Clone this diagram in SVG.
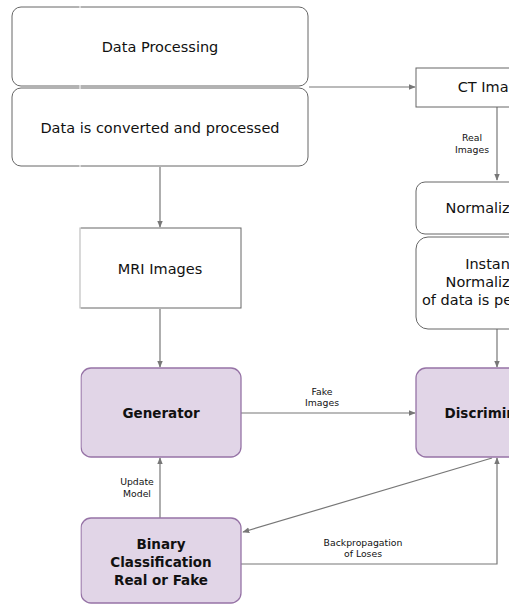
<svg xmlns="http://www.w3.org/2000/svg" width="509" height="605" viewBox="0 0 509 605">
<style>
.box{fill:#ffffff;stroke:#666666;stroke-width:1}
.gan{fill:#e1d5e7;stroke:#9673a6;stroke-width:1.3}
.t{font-family:"DejaVu Sans","Liberation Sans",sans-serif;fill:#111;text-anchor:middle}
.n{font-size:14.5px}
.b{font-size:13.5px;font-weight:bold}
.s{font-size:9.3px}
.c{fill:none;stroke:#777777;stroke-width:1.2}
</style>
<defs>
<marker id="ah" viewBox="0 0 10 10" refX="9" refY="5" markerWidth="7" markerHeight="7" orient="auto" markerUnits="userSpaceOnUse">
<path d="M0,1 L10,5 L0,9 z" fill="#777777"/>
</marker>
</defs>
<rect width="509" height="605" fill="#ffffff"/>
<g id="connectors">
<path class="c" d="M160,167 V227" marker-end="url(#ah)"/>
<path class="c" d="M309,87 H415" marker-end="url(#ah)"/>
<path class="c" d="M497,107 V180" marker-end="url(#ah)"/>
<path class="c" d="M160,309 V367" marker-end="url(#ah)"/>
<path class="c" d="M497,329 V367" marker-end="url(#ah)"/>
<path class="c" d="M241,413 H415" marker-end="url(#ah)"/>
<path class="c" d="M160,518 V458" marker-end="url(#ah)"/>
<path class="c" d="M492,458 L243,532" marker-end="url(#ah)"/>
<path class="c" d="M241,564 H497 V458" marker-end="url(#ah)"/>
<text class="t s" x="322" y="395">Fake</text>
<text class="t s" x="322" y="406">Images</text>
<text class="t s" x="472" y="141">Real</text>
<text class="t s" x="472" y="153">Images</text>
<text class="t s" x="137" y="485">Update</text>
<text class="t s" x="137" y="497">Model</text>
<text class="t s" x="363" y="546">Backpropagation</text>
<text class="t s" x="363" y="557">of Loses</text>
</g>
<g id="data-processing">
<rect class="box" x="12" y="7" width="296" height="79" rx="9"/>
<text class="t n" x="160" y="52">Data Processing</text>
</g>
<g id="data-converted">
<rect class="box" x="12" y="88" width="296" height="78" rx="9"/>
<text class="t n" x="160" y="133">Data is converted and processed</text>
</g>
<g id="mri-images">
<rect class="box" x="80" y="228" width="161" height="80"/>
<text class="t n" x="160" y="274">MRI Images</text>
</g>
<g id="ct-images">
<rect class="box" x="416" y="68" width="160" height="39"/>
<text class="t n" x="496" y="92">CT Images</text>
</g>
<g id="normalization">
<rect class="box" x="416" y="182" width="160" height="52" rx="9"/>
<text class="t n" x="496" y="213">Normalization</text>
</g>
<g id="instance-normalization">
<rect class="box" x="416" y="237" width="160" height="92" rx="12"/>
<text class="t n" x="496" y="269">Instance</text>
<text class="t n" x="496" y="287">Normalization</text>
<text class="t n" x="496" y="305">of data is performed</text>
</g>
<g id="generator">
<rect class="gan" x="81" y="368" width="160" height="89" rx="10"/>
<text class="t b" x="161" y="418">Generator</text>
</g>
<g id="discriminator">
<rect class="gan" x="416" y="368" width="160" height="89" rx="10"/>
<text class="t b" x="496" y="418">Discriminator</text>
</g>
<g id="binary-classification">
<rect class="gan" x="81" y="518" width="160" height="85" rx="10"/>
<text class="t b" x="161" y="549">Binary</text>
<text class="t b" x="161" y="567">Classification</text>
<text class="t b" x="161" y="585">Real or Fake</text>
</g>
<line x1="80" y1="0" x2="80" y2="605" stroke="#ffffff" stroke-width="1"/>
</svg>
